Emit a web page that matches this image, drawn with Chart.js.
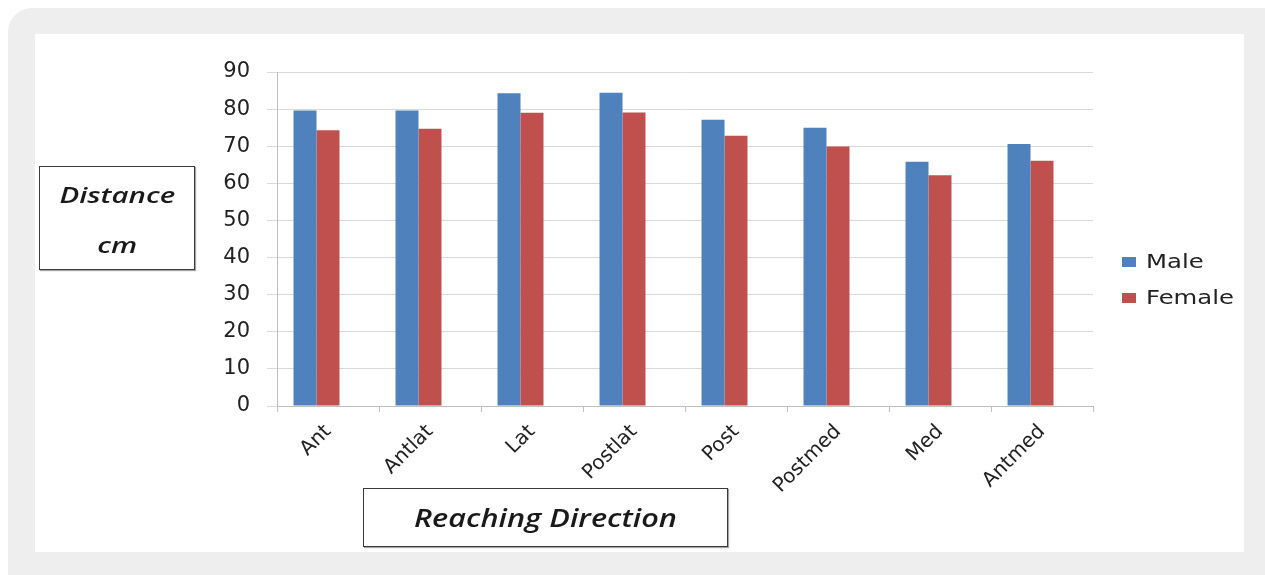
<!DOCTYPE html>
<html>
<head>
<meta charset="utf-8">
<script src="https://cdn.jsdelivr.net/npm/chart.js@4.4.1/dist/chart.umd.min.js"></script>
<style>
  html, body { margin: 0; padding: 0; background: #fff; overflow: hidden; }
  #frame { position: absolute; left: 8px; top: 8px; width: 1290px; height: 600px; background: #eeeeee; border-radius: 24px; }
  #panel { position: absolute; left: 35px; top: 34px; width: 1209px; height: 518px; background: #fff; }
  canvas { position: absolute; left: 0; top: 0; }
  .box { position: absolute; border: 1.5px solid #3a3a3a; box-shadow: 1px 1px 1px rgba(0,0,0,0.35); background: #fff;
         font-family: "Open Sans", sans-serif; font-style: italic; font-weight: 600; color: #1a1a1a; text-align: center; }
  .box span { display: inline-block; transform-origin: center; }
  #ytitle { left: 39px; top: 166px; width: 156px; height: 104px; font-size: 21px; line-height: 50px; padding-top: 3px; box-sizing: border-box; }
  #ytitle span { transform: scaleX(1.4); }
  #xtitle { left: 363px; top: 488px; width: 363px; height: 57px; font-size: 26px; line-height: 57px; }
  #xtitle span { transform: scaleX(1.18); }
  #legend { position: absolute; left: 1122px; top: 249px; font-family: "DejaVu Sans", sans-serif; font-size: 19px; color: #222; }
  #legend div { height: 36px; line-height: 24px; white-space: nowrap; }
  #legend i { display: inline-block; width: 14px; height: 10px; margin-right: 10px; vertical-align: 1px; }
  #legend b { font-weight: normal; display: inline-block; transform: scaleX(1.28); transform-origin: left; }
</style>
</head>
<body>
<div id="frame"></div>
<div id="panel"></div>
<canvas id="chart" width="1265" height="575"></canvas>
<div class="box" id="ytitle"><span>Distance</span><br><span>cm</span></div>
<div class="box" id="xtitle"><span>Reaching Direction</span></div>
<div id="legend"></div>
<script>
const directions = ['Ant', 'Antlat', 'Lat', 'Postlat', 'Post', 'Postmed', 'Med', 'Antmed'];
const male = [79.6, 79.6, 84.3, 84.4, 77.1, 75.0, 65.8, 70.6];
const female = [74.3, 74.7, 79.0, 79.1, 72.8, 69.9, 62.2, 66.1];
const yTicks = [0, 10, 20, 30, 40, 50, 60, 70, 80, 90];

const chart = new Chart(document.getElementById('chart'), {
  type: 'bar',
  data: {
    labels: directions,
    datasets: [
      { label: 'Male', data: male, backgroundColor: '#4F81BD' },
      { label: 'Female', data: female, backgroundColor: '#C0504D' },
      // empty slot so the pair sits left of the category centre, as in the original
      { label: '', data: [], backgroundColor: 'rgba(0,0,0,0)' }
    ]
  },
  options: {
    responsive: false,
    animation: false,
    categoryPercentage: 0.676,
    barPercentage: 1,
    layout: { padding: { left: 217, top: 72, right: 172, bottom: 69 } },
    plugins: {
      legend: { display: false },
      tooltip: { enabled: false }
    },
    scales: {
      x: {
        grid: { drawOnChartArea: false, tickLength: 6, color: '#bfbfbf' },
        border: { color: '#bfbfbf' },
        ticks: {
          autoSkip: false, maxRotation: 45, minRotation: 45, padding: 8,
          color: '#222', font: { family: 'DejaVu Sans', size: 20 }
        },
        afterFit: s => { s.height = 100; }
      },
      y: {
        min: 0, max: 90,
        afterBuildTicks: s => { s.ticks = yTicks.map(v => ({ value: v })); },
        grid: { color: '#d9d9d9', tickLength: 10 },
        border: { color: '#bfbfbf' },
        ticks: { padding: 17, color: '#222', font: { family: 'DejaVu Sans', size: 21 } },
        afterFit: s => { s.width = 60; }
      }
    }
  }
});

const legend = document.getElementById('legend');
chart.data.datasets.filter(d => d.label).forEach(d => {
  const row = document.createElement('div');
  row.innerHTML = '<i style="background:' + d.backgroundColor + '"></i><b>' + d.label + '</b>';
  legend.appendChild(row);
});
</script>
</body>
</html>
